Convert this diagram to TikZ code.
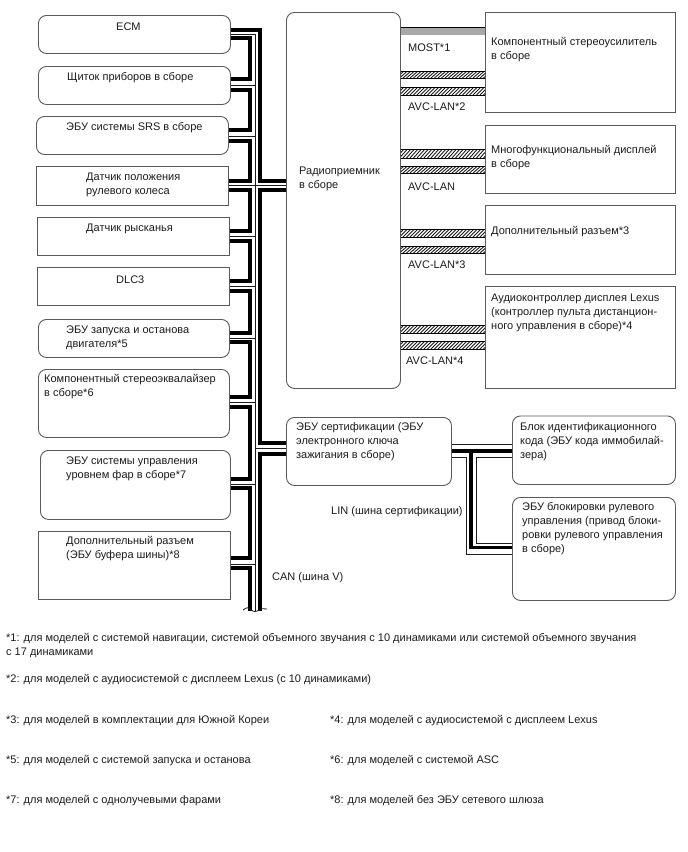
\documentclass[tikz,border=0pt]{standalone}
\usepackage{fontspec}
\setmainfont{Liberation Sans}
\definecolor{edge}{HTML}{5A5A5A}
\definecolor{ink}{HTML}{1C1C1C}
\definecolor{most}{HTML}{A8A8A8}
\tikzset{
  ecu/.style={draw=edge,line width=0.9pt,rounded corners=8pt,anchor=north west,inner sep=0pt,fill=white},
  plainbox/.style={draw=edge,line width=0.9pt,anchor=north west,inner sep=0pt,fill=white},
  lab/.style={anchor=west,inner sep=0pt,align=left,text=ink,yshift=-1.8pt,font=\fontsize{11}{14}\selectfont},
  wirethick/.style={draw=black,line width=3.2pt,line join=miter},
  wirethin/.style={draw=ink,line width=0.9pt},
}
% One hatched AVC-LAN conductor between two modules
\newcommand{\hband}[4]{%
  \begin{scope}
    \clip (#1.east |- 0,#3) rectangle (#2.west |- 0,#4);
    \foreach \hx in {396,399.5,...,490}
      \draw[line width=0.9pt,ink] (\hx,#4) -- (\hx+8,#3);
  \end{scope}
  \draw[line width=1pt,black] (#1.east |- 0,#3) -- (#2.west |- 0,#3);
  \draw[line width=1pt,black] (#1.east |- 0,#4) -- (#2.west |- 0,#4);
}
\begin{document}
\begin{tikzpicture}[x=1pt,y=-1pt]
\path[use as bounding box,fill=white] (0,0) rectangle (688,852);

% Bus-side modules
\node[ecu,minimum width=192pt,minimum height=38pt] (ecm) at (38,15) {};
\node[ecu,minimum width=192pt,minimum height=38pt] (cluster) at (38,66) {};
\node[ecu,minimum width=192pt,minimum height=38pt] (srs) at (36,116) {};
\node[plainbox,minimum width=192pt,minimum height=39pt] (steer) at (36,166) {};
\node[plainbox,minimum width=192pt,minimum height=38pt] (yaw) at (37,217) {};
\node[plainbox,minimum width=192pt,minimum height=38pt] (dlc) at (37,267) {};
\node[ecu,minimum width=191pt,minimum height=38pt] (stop) at (38,319) {};
\node[ecu,minimum width=191pt,minimum height=68pt] (eq) at (38,369) {};
\node[ecu,minimum width=190pt,minimum height=69pt] (lamp) at (40,450) {};
\node[plainbox,minimum width=192pt,minimum height=68pt] (gate) at (38,531) {};

% Head unit and the modules on its right
\node[ecu,minimum width=114pt,minimum height=376pt] (radio) at (286,12) {};
\node[plainbox,minimum width=189.5pt,minimum height=100pt] (amp) at (485,12) {};
\node[plainbox,minimum width=189.5pt,minimum height=68pt] (disp) at (485,125) {};
\node[plainbox,minimum width=189.5pt,minimum height=69pt] (aux) at (485,205) {};
\node[plainbox,minimum width=189.5pt,minimum height=102.5pt] (audio) at (485,285.5) {};
\node[ecu,minimum width=165pt,minimum height=68pt] (cert) at (286,417) {};
\node[ecu,minimum width=163pt,minimum height=68.5pt] (immo) at (512,415.5) {};
\node[ecu,minimum width=163pt,minimum height=103pt] (lock) at (512,497) {};

% CAN: centre wire
\draw[wirethin] (255,34) -- (255,611);
% CAN: outer wire, broken where the head unit and certification ECU tee off
\draw[wirethick] (ecm.east |- 0,30) -- (260,30) -- (260,181) -- (radio.west |- 0,181);
\draw[wirethin] (ecm.east |- 0,34.5) -- (255,34.5);
\draw[wirethick] (radio.west |- 0,190) -- (260,190) -- (260,443) -- (cert.west |- 0,443);
\draw[wirethick] (cert.west |- 0,454) -- (260,454) -- (260,611);
\draw[wirethin] (steer.east |- 0,185.5) -- (radio.west |- 0,185.5);
\draw[wirethin] (255,448.5) -- (cert.west |- 0,448.5);
% CAN: inner wire, looping through each module
\draw[wirethick] (ecm.east |- 0,38) -- (250,38) -- (250,79) -- (cluster.east |- 0,79);
\draw[wirethin] (cluster.east |- 0,85) -- (255,85);
\draw[wirethick] (cluster.east |- 0,90) -- (250,90) -- (250,130) -- (srs.east |- 0,130);
\draw[wirethin] (srs.east |- 0,136) -- (255,136);
\draw[wirethick] (srs.east |- 0,141) -- (250,141) -- (250,181) -- (steer.east |- 0,181);
\draw[wirethick] (steer.east |- 0,190) -- (250,190) -- (250,231) -- (yaw.east |- 0,231);
\draw[wirethin] (yaw.east |- 0,236) -- (255,236);
\draw[wirethick] (yaw.east |- 0,241) -- (250,241) -- (250,281) -- (dlc.east |- 0,281);
\draw[wirethin] (dlc.east |- 0,286) -- (255,286);
\draw[wirethick] (dlc.east |- 0,291) -- (250,291) -- (250,333) -- (stop.east |- 0,333);
\draw[wirethin] (stop.east |- 0,338) -- (255,338);
\draw[wirethick] (stop.east |- 0,342) -- (250,342) -- (250,397) -- (eq.east |- 0,397);
\draw[wirethin] (eq.east |- 0,402) -- (255,402);
\draw[wirethick] (eq.east |- 0,407) -- (250,407) -- (250,479) -- (lamp.east |- 0,479);
\draw[wirethin] (lamp.east |- 0,484) -- (255,484);
\draw[wirethick] (lamp.east |- 0,488) -- (250,488) -- (250,558) -- (gate.east |- 0,558);
\draw[wirethin] (gate.east |- 0,564) -- (255,564);
\draw[wirethick] (gate.east |- 0,568) -- (250,568) -- (250,611);
% Torn end of the bus
\draw[line width=0.8pt,ink] (243,610) .. controls (247,607) and (249,607) .. (251,610)
  .. controls (254,612) and (256,612) .. (259,610) .. controls (262,607) and (264,610) .. (267,609);

% MOST
\fill[most] (radio.east |- 0,27) rectangle (amp.west |- 0,35);
\draw[line width=1pt,black] (radio.east |- 0,27) -- (amp.west |- 0,27);

% AVC-LAN
\hband{radio}{amp}{71}{78}
\hband{radio}{amp}{87}{95}
\hband{radio}{disp}{149}{158}
\hband{radio}{disp}{166}{173}
\hband{radio}{aux}{229}{237}
\hband{radio}{aux}{246}{253}
\hband{radio}{audio}{325}{333}
\hband{radio}{audio}{341}{349}

% LIN
\draw[wirethin] (cert.east |- 0,444) -- (immo.west |- 0,444);
\draw[wirethick] (cert.east |- 0,451) -- (immo.west |- 0,451);
\draw[wirethick] (471,451) -- (471,547.5) -- (lock.west |- 0,547.5);
\draw[wirethin] (cert.east |- 0,457) -- (466,457) -- (466,554) -- (lock.west |- 0,554);
\draw[wirethin] (immo.west |- 0,457) -- (476,457) -- (476,543) -- (lock.west |- 0,543);

% Module captions
\node[lab] (tecm) at (116,25) {ECM};
\node[lab] (tcluster) at (67,76) {Щиток приборов в сборе};
\node[lab] (tsrs) at (66,126) {ЭБУ системы SRS в сборе};
\node[lab] (tsteer) at (86,183) {Датчик положения\\рулевого колеса};
\node[lab] (tyaw) at (86,227) {Датчик рысканья};
\node[lab] (tdlc) at (116,278) {DLC3};
\node[lab] (tstop) at (66,336) {ЭБУ запуска и останова\\двигателя*5};
\node[lab] (teq) at (44,385) {Компонентный стереоэквалайзер\\в сборе*6};
\node[lab] (tlamp) at (66,467) {ЭБУ системы управления\\уровнем фар в сборе*7};
\node[lab] (tgate) at (66,547) {Дополнительный разъем\\(ЭБУ буфера шины)*8};
\node[lab] (tradio) at (299,177) {Радиоприемник\\в сборе};
\node[lab] (tamp) at (491,48) {Компонентный стереоусилитель\\в сборе};
\node[lab] (tdisp) at (491,156) {Многофункциональный дисплей\\в сборе};
\node[lab] (taux) at (491,230) {Дополнительный разъем*3};
\node[lab] (taudio) at (491,311) {Аудиоконтроллер дисплея Lexus\\(контроллер пульта дистанцион-\\ного управления в сборе)*4};
\node[lab] (tcert) at (296,440) {ЭБУ сертификации (ЭБУ\\электронного ключа\\зажигания в сборе)};
\node[lab] (timmo) at (520,440) {Блок идентификационного\\кода (ЭБУ кода иммобилай-\\зера)};
\node[lab] (tlock) at (522,527) {ЭБУ блокировки рулевого\\управления (привод блоки-\\ровки рулевого управления\\в сборе)};

% Bus captions
\node[lab] (tmost) at (408,46) {MOST*1};
\node[lab] (tavc2) at (408,105) {AVC-LAN*2};
\node[lab] (tavc) at (408,185) {AVC-LAN};
\node[lab] (tavc3) at (408,263) {AVC-LAN*3};
\node[lab] (tavc4) at (406,359) {AVC-LAN*4};
\node[lab] (tlin) at (331,510) {LIN (шина сертификации)};
\node[lab] (tcan) at (272,576) {CAN (шина V)};

% Footnotes
\node[lab] (n1) at (6,644) {*1: для моделей с системой навигации, системой объемного звучания с 10 динамиками или системой объемного звучания\\с 17 динамиками};
\node[lab] (n2) at (6,678) {*2: для моделей с аудиосистемой с дисплеем Lexus (с 10 динамиками)};
\node[lab] (n3) at (6,719) {*3: для моделей в комплектации для Южной Кореи};
\node[lab] (n4) at (330,719) {*4: для моделей с аудиосистемой с дисплеем Lexus};
\node[lab] (n5) at (6,759) {*5: для моделей с системой запуска и останова};
\node[lab] (n6) at (330,759) {*6: для моделей с системой ASC};
\node[lab] (n7) at (6,799) {*7: для моделей с однолучевыми фарами};
\node[lab] (n8) at (330,799) {*8: для моделей без ЭБУ сетевого шлюза};
\end{tikzpicture}
\end{document}
